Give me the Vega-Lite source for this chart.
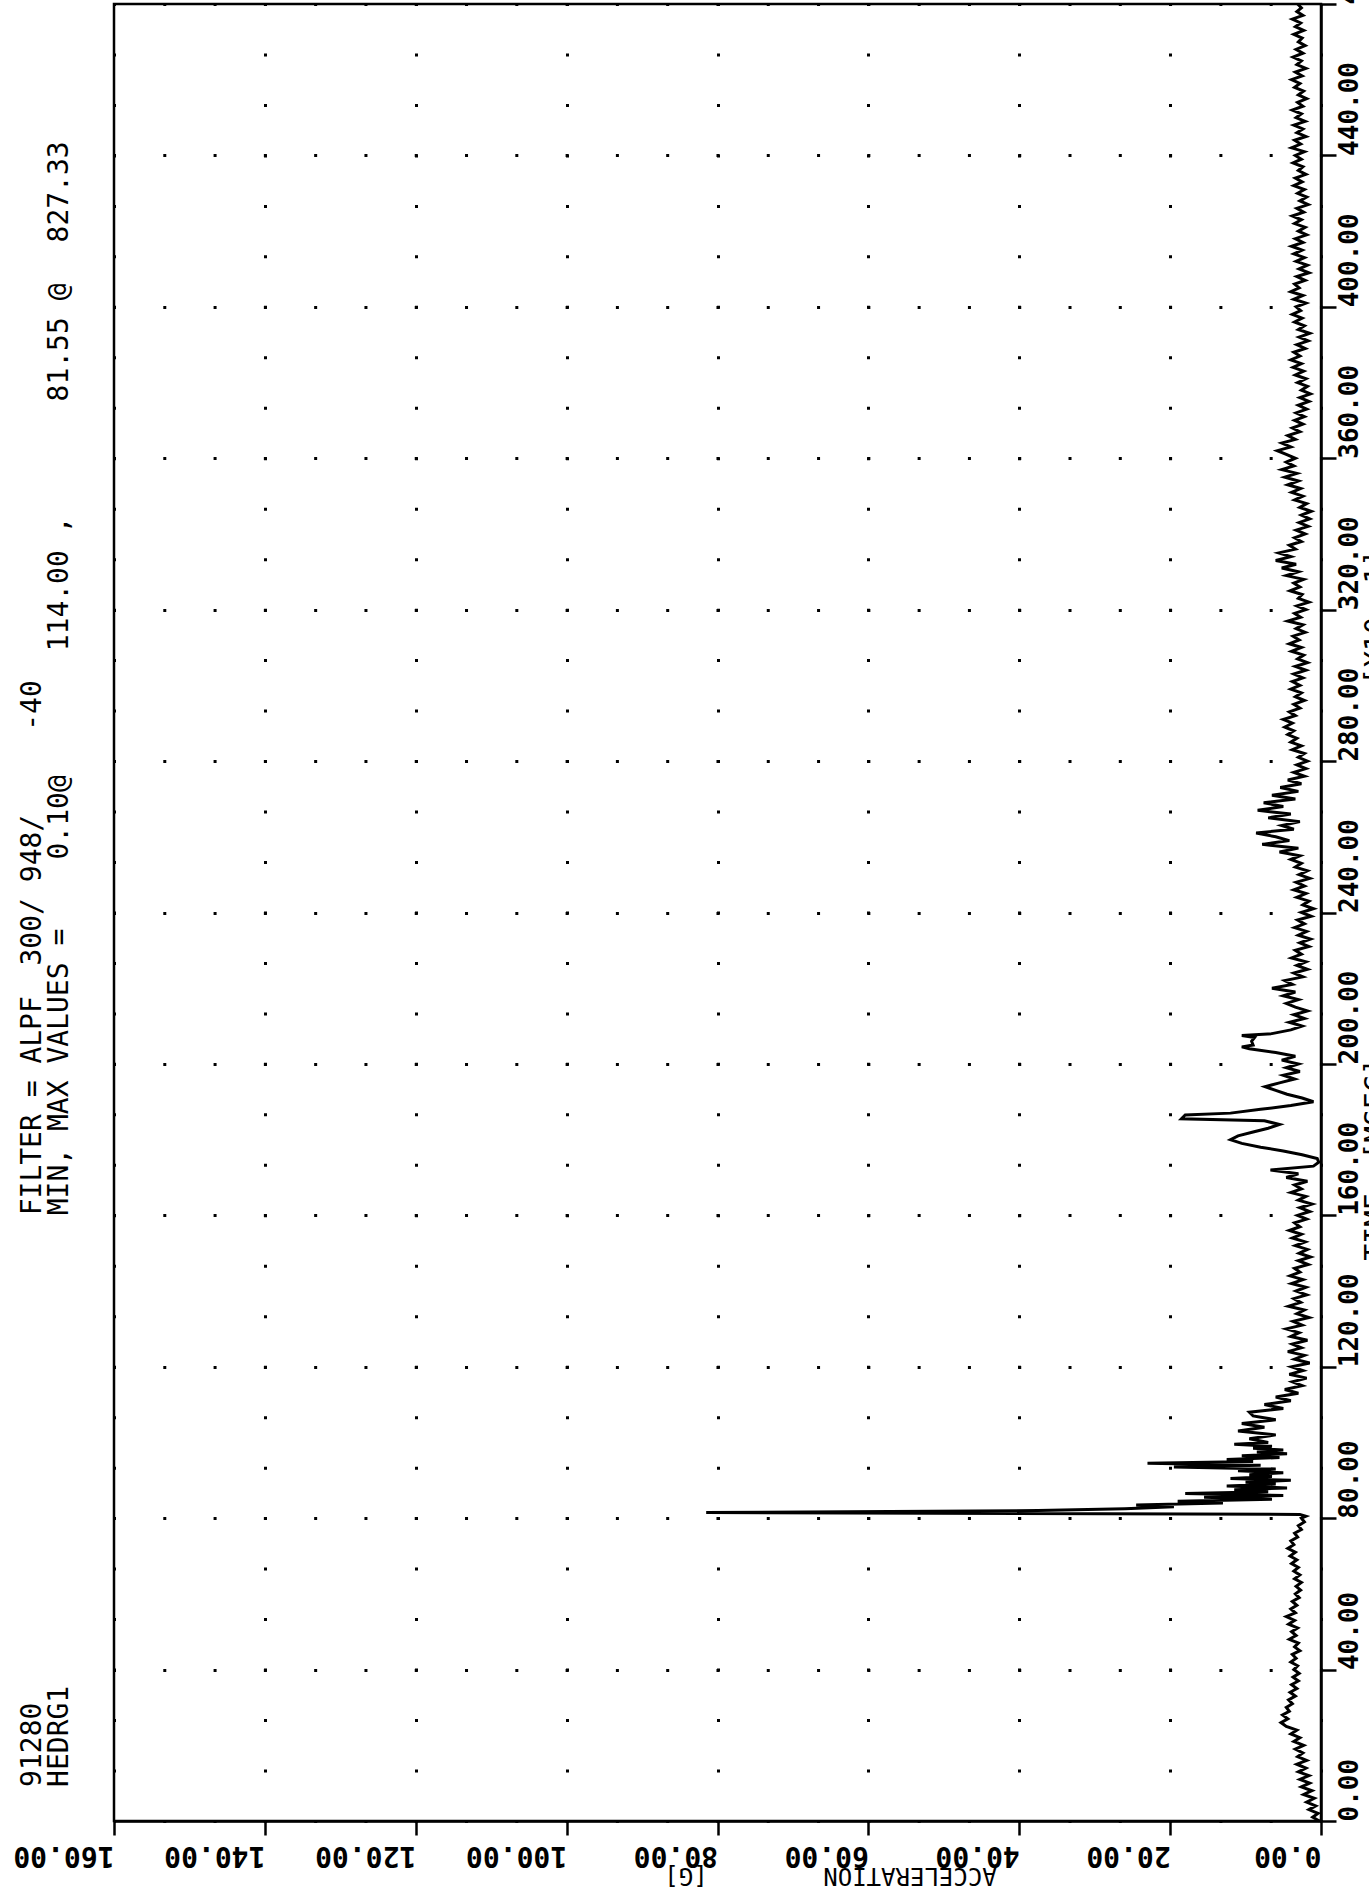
{
"$schema": "https://vega.github.io/schema/vega-lite/v6.json",
"width": 1207,
"height": 1817,
"autosize": {"type": "none"},
"padding": {"left": 114, "top": 4, "right": 48, "bottom": 69},
"background": "white",
"config": {"view": {"stroke": "black", "strokeWidth": 2.5}},
"datasets": {
"trace": [
{"t":0,"g":0.2},{"t":1,"g":1.1},{"t":2,"g":0.4},{"t":3,"g":1.6},{"t":4,"g":0.7},{"t":5,"g":1.9},{"t":6,"g":0.9},{"t":7,"g":2.3},{"t":8,"g":1.2},{"t":9,"g":2.6},{"t":10,"g":1.5},
{"t":11,"g":2.8},{"t":12,"g":1.6},{"t":13,"g":3.0},{"t":14,"g":2.0},{"t":15,"g":3.2},{"t":16,"g":1.9},{"t":17,"g":3.1},{"t":18,"g":2.4},{"t":19,"g":3.4},{"t":20,"g":2.3},{"t":21,"g":3.6},{"t":22,"g":2.8},{"t":23,"g":4.0},{"t":24,"g":3.2},
{"t":25,"g":4.6},{"t":26,"g":5.3},{"t":27,"g":4.4},{"t":28,"g":5.1},{"t":29,"g":4.2},{"t":30,"g":4.6},{"t":31,"g":3.8},{"t":32,"g":4.3},
{"t":33,"g":3.4},{"t":34,"g":4.1},{"t":35,"g":3.2},{"t":36,"g":3.9},{"t":37,"g":3.0},{"t":38,"g":3.7},{"t":39,"g":2.9},{"t":40,"g":3.6},{"t":41,"g":3.1},{"t":42,"g":4.0},{"t":43,"g":3.3},{"t":44,"g":3.8},{"t":45,"g":2.8},{"t":46,"g":3.5},{"t":47,"g":3.0},{"t":48,"g":4.2},{"t":49,"g":3.3},{"t":50,"g":3.9},
{"t":51,"g":3.1},{"t":52,"g":4.3},{"t":53,"g":3.5},{"t":54,"g":4.6},{"t":55,"g":3.4},{"t":56,"g":4.0},{"t":57,"g":3.2},{"t":58,"g":3.8},{"t":59,"g":2.9},{"t":60,"g":3.4},{"t":61,"g":2.7},{"t":62,"g":3.3},{"t":63,"g":2.6},{"t":64,"g":3.5},{"t":65,"g":2.8},{"t":66,"g":3.6},{"t":67,"g":3.0},{"t":68,"g":3.9},{"t":69,"g":3.2},{"t":70,"g":4.1},
{"t":71,"g":3.4},{"t":72,"g":4.4},{"t":73,"g":3.6},{"t":74,"g":4.0},{"t":75,"g":3.1},{"t":76,"g":3.5},{"t":77,"g":2.6},{"t":78,"g":3.0},{"t":79,"g":2.2},{"t":80,"g":2.6},
{"t":80.5,"g":2.0},{"t":81,"g":2.8},{"t":81.5,"g":81.5},{"t":82,"g":37.5},{"t":82.5,"g":26.0},{"t":83,"g":19.5},{"t":83.5,"g":24.5},{"t":84,"g":13.0},{"t":84.5,"g":19.0},{"t":85,"g":6.5},{"t":85.5,"g":15.5},{"t":86,"g":5.0},{"t":86.5,"g":18.0},{"t":87,"g":7.0},{"t":87.5,"g":11.5},{"t":88,"g":4.5},{"t":88.5,"g":12.5},{"t":89,"g":6.0},{"t":89.5,"g":10.0},{"t":90,"g":4.0},
{"t":90.5,"g":12.0},{"t":91,"g":6.5},{"t":91.5,"g":9.5},{"t":92,"g":5.0},{"t":92.5,"g":11.0},{"t":93,"g":6.0},{"t":93.5,"g":19.5},{"t":94,"g":8.0},{"t":94.5,"g":23.0},{"t":95,"g":9.0},{"t":95.5,"g":12.5},{"t":96,"g":5.5},{"t":96.5,"g":10.5},{"t":97,"g":4.5},{"t":97.5,"g":8.5},{"t":98,"g":5.0},{"t":98.5,"g":9.0},{"t":99,"g":6.5},{"t":99.5,"g":11.5},{"t":100,"g":7.0},
{"t":101,"g":9.5},{"t":102,"g":6.0},{"t":103,"g":11.0},{"t":104,"g":7.5},{"t":105,"g":10.5},{"t":106,"g":6.0},{"t":107,"g":9.0},{"t":108,"g":9.5},{"t":109,"g":5.0},{"t":110,"g":7.5},{"t":111,"g":4.0},{"t":112,"g":6.0},{"t":113,"g":3.0},{"t":114,"g":4.8},{"t":115,"g":2.5},
{"t":116,"g":3.8},{"t":117,"g":1.9},{"t":118,"g":4.2},{"t":119,"g":2.4},{"t":120,"g":3.9},{"t":121,"g":1.5},{"t":122,"g":3.5},{"t":123,"g":2.2},{"t":124,"g":4.4},{"t":125,"g":2.6},{"t":126,"g":3.8},{"t":127,"g":1.8},{"t":128,"g":4.0},{"t":129,"g":2.9},{"t":130,"g":4.6},
{"t":131,"g":2.5},{"t":132,"g":3.7},{"t":133,"g":1.6},{"t":134,"g":3.2},{"t":135,"g":2.2},{"t":136,"g":4.3},{"t":137,"g":2.7},{"t":138,"g":3.6},{"t":139,"g":1.9},{"t":140,"g":3.3},{"t":141,"g":2.0},{"t":142,"g":3.9},{"t":143,"g":2.4},{"t":144,"g":4.1},{"t":145,"g":2.8},{"t":146,"g":3.5},{"t":147,"g":1.7},{"t":148,"g":3.0},{"t":149,"g":1.4},{"t":150,"g":2.9},
{"t":151,"g":1.8},{"t":152,"g":3.4},{"t":153,"g":2.1},{"t":154,"g":3.8},{"t":155,"g":2.6},{"t":156,"g":4.2},{"t":157,"g":2.8},{"t":158,"g":3.5},{"t":159,"g":1.9},{"t":160,"g":3.1},{"t":161,"g":1.5},{"t":162,"g":2.8},{"t":163,"g":1.2},{"t":164,"g":3.0},{"t":165,"g":2.0},
{"t":166,"g":4.0},{"t":167,"g":2.6},{"t":168,"g":3.5},{"t":169,"g":1.8},{"t":170,"g":4.6},{"t":171,"g":3.0},{"t":172,"g":6.7},{"t":173,"g":1.0},{"t":174,"g":0.3},{"t":175,"g":0.5},{"t":176,"g":2.5},{"t":177,"g":5.0},{"t":178,"g":8.0},{"t":179,"g":10.5},{"t":180,"g":12.0},{"t":181,"g":11.0},{"t":182,"g":9.0},{"t":183,"g":7.0},{"t":184,"g":5.5},{"t":185,"g":7.5},
{"t":185.5,"g":18.5},{"t":186.5,"g":18.0},{"t":187,"g":12.0},{"t":188,"g":8.0},{"t":189,"g":4.0},{"t":190,"g":1.0},
{"t":191,"g":2.5},{"t":192,"g":4.5},{"t":193,"g":6.0},{"t":194,"g":7.4},{"t":195,"g":5.5},{"t":196,"g":3.5},{"t":197,"g":5.0},{"t":198,"g":2.8},{"t":199,"g":4.6},{"t":200,"g":3.0},{"t":201,"g":5.2},{"t":202,"g":3.4},{"t":203,"g":6.0},{"t":204,"g":9.5},{"t":204.5,"g":10.5},{"t":205,"g":9.0},{"t":206,"g":9.2},{"t":207,"g":8.8},{"t":207.5,"g":10.5},{"t":208,"g":6.5},{"t":209,"g":4.0},{"t":210,"g":2.5},
{"t":211,"g":4.2},{"t":212,"g":2.2},{"t":213,"g":3.6},{"t":214,"g":1.8},{"t":215,"g":3.4},{"t":216,"g":4.6},{"t":217,"g":3.0},{"t":218,"g":5.0},{"t":219,"g":3.4},{"t":220,"g":6.5},{"t":221,"g":3.8},{"t":222,"g":4.8},{"t":223,"g":2.4},{"t":224,"g":3.6},{"t":225,"g":1.8},{"t":226,"g":3.2},{"t":227,"g":2.0},{"t":228,"g":3.9},{"t":229,"g":2.6},{"t":230,"g":3.4},
{"t":231,"g":1.6},{"t":232,"g":2.8},{"t":233,"g":1.4},{"t":234,"g":3.0},{"t":235,"g":1.9},{"t":236,"g":3.5},{"t":237,"g":2.2},{"t":238,"g":3.1},{"t":239,"g":1.3},{"t":240,"g":2.6},{"t":241,"g":1.0},{"t":242,"g":2.4},{"t":243,"g":1.6},{"t":244,"g":3.2},{"t":245,"g":2.0},{"t":246,"g":3.6},{"t":247,"g":2.2},{"t":248,"g":3.3},{"t":249,"g":1.5},{"t":250,"g":2.9},
{"t":251,"g":1.8},{"t":252,"g":3.4},{"t":253,"g":2.6},{"t":254,"g":4.0},{"t":255,"g":2.8},{"t":256,"g":5.5},{"t":257,"g":3.0},{"t":258,"g":7.8},{"t":259,"g":4.2},{"t":260,"g":6.0},{"t":261,"g":8.6},{"t":262,"g":3.6},{"t":263,"g":5.2},{"t":264,"g":2.8},{"t":265,"g":7.0},{"t":266,"g":4.0},{"t":267,"g":8.4},{"t":268,"g":5.0},{"t":269,"g":7.6},{"t":270,"g":3.4},
{"t":271,"g":6.5},{"t":272,"g":3.0},{"t":273,"g":5.4},{"t":274,"g":2.6},{"t":275,"g":4.4},{"t":276,"g":2.2},{"t":277,"g":3.6},{"t":278,"g":2.0},{"t":279,"g":3.2},{"t":280,"g":1.8},{"t":281,"g":3.0},{"t":282,"g":2.2},{"t":283,"g":3.8},{"t":284,"g":2.6},{"t":285,"g":4.0},{"t":286,"g":3.2},{"t":287,"g":4.4},{"t":288,"g":3.6},{"t":289,"g":4.8},{"t":290,"g":3.8},
{"t":291,"g":5.0},{"t":292,"g":3.4},{"t":293,"g":4.2},{"t":294,"g":2.8},{"t":295,"g":3.6},{"t":296,"g":2.2},{"t":297,"g":3.4},{"t":298,"g":2.6},{"t":299,"g":4.0},{"t":300,"g":2.8},
{"t":301,"g":3.8},{"t":302,"g":2.4},{"t":303,"g":3.6},{"t":304,"g":2.0},{"t":305,"g":3.4},{"t":306,"g":1.8},{"t":307,"g":3.1},{"t":308,"g":2.3},{"t":309,"g":3.9},{"t":310,"g":2.6},{"t":311,"g":4.2},{"t":312,"g":2.9},{"t":313,"g":3.7},{"t":314,"g":2.1},{"t":315,"g":3.3},{"t":316,"g":2.4},{"t":317,"g":4.4},{"t":318,"g":2.7},{"t":319,"g":3.5},{"t":320,"g":2.0},
{"t":321,"g":3.2},{"t":322,"g":1.6},{"t":323,"g":3.0},{"t":324,"g":2.5},{"t":325,"g":4.1},{"t":326,"g":2.8},{"t":327,"g":3.6},{"t":328,"g":2.3},{"t":329,"g":4.6},{"t":330,"g":3.0},{"t":331,"g":5.2},{"t":332,"g":3.3},{"t":333,"g":6.0},{"t":334,"g":4.0},{"t":335,"g":5.6},{"t":336,"g":3.4},{"t":337,"g":4.2},{"t":338,"g":2.6},{"t":339,"g":3.5},{"t":340,"g":2.1},
{"t":341,"g":3.3},{"t":342,"g":1.7},{"t":343,"g":2.9},{"t":344,"g":1.5},{"t":345,"g":2.6},{"t":346,"g":1.3},{"t":347,"g":2.8},{"t":348,"g":1.9},{"t":349,"g":3.5},{"t":350,"g":2.4},{"t":351,"g":3.9},{"t":352,"g":2.7},{"t":353,"g":4.4},{"t":354,"g":3.0},{"t":355,"g":4.8},{"t":356,"g":3.2},{"t":357,"g":5.2},{"t":358,"g":3.6},{"t":359,"g":4.6},{"t":360,"g":3.4},
{"t":361,"g":4.6},{"t":362,"g":5.8},{"t":363,"g":4.0},{"t":364,"g":5.2},{"t":365,"g":3.4},{"t":366,"g":4.4},{"t":367,"g":2.8},{"t":368,"g":3.8},{"t":369,"g":2.4},{"t":370,"g":3.5},{"t":371,"g":2.2},{"t":372,"g":3.3},{"t":373,"g":1.9},{"t":374,"g":3.0},{"t":375,"g":1.6},{"t":376,"g":2.8},{"t":377,"g":1.4},{"t":378,"g":2.6},{"t":379,"g":1.8},{"t":380,"g":3.1},
{"t":381,"g":2.0},{"t":382,"g":3.4},{"t":383,"g":2.3},{"t":384,"g":3.7},{"t":385,"g":2.6},{"t":386,"g":4.0},{"t":387,"g":2.8},{"t":388,"g":3.6},{"t":389,"g":2.1},{"t":390,"g":3.2},{"t":391,"g":1.7},{"t":392,"g":2.9},{"t":393,"g":1.5},{"t":394,"g":3.0},{"t":395,"g":2.2},{"t":396,"g":3.5},{"t":397,"g":2.5},{"t":398,"g":3.8},{"t":399,"g":2.7},{"t":400,"g":3.3},
{"t":401,"g":2.0},{"t":402,"g":3.6},{"t":403,"g":2.4},{"t":404,"g":4.0},{"t":405,"g":2.9},{"t":406,"g":3.5},{"t":407,"g":2.1},{"t":408,"g":3.2},{"t":409,"g":1.6},{"t":410,"g":2.9},{"t":411,"g":1.8},{"t":412,"g":3.3},{"t":413,"g":2.2},{"t":414,"g":3.6},{"t":415,"g":2.5},{"t":416,"g":3.9},{"t":417,"g":2.4},{"t":418,"g":3.4},{"t":419,"g":1.9},{"t":420,"g":3.0},
{"t":421,"g":2.1},{"t":422,"g":3.5},{"t":423,"g":2.6},{"t":424,"g":3.8},{"t":425,"g":2.3},{"t":426,"g":3.2},{"t":427,"g":1.7},{"t":428,"g":2.8},{"t":429,"g":1.9},{"t":430,"g":3.1},{"t":431,"g":2.2},{"t":432,"g":3.6},{"t":433,"g":2.5},{"t":434,"g":3.4},{"t":435,"g":2.0},{"t":436,"g":3.0},{"t":437,"g":2.4},{"t":438,"g":3.7},{"t":439,"g":2.6},{"t":440,"g":3.4},
{"t":441,"g":2.2},{"t":442,"g":3.9},{"t":443,"g":2.7},{"t":444,"g":3.5},{"t":445,"g":2.0},{"t":446,"g":3.2},{"t":447,"g":2.4},{"t":448,"g":3.6},{"t":449,"g":2.1},{"t":450,"g":3.3},{"t":451,"g":2.6},{"t":452,"g":3.8},{"t":453,"g":2.4},{"t":454,"g":3.1},{"t":455,"g":1.9},{"t":456,"g":3.0},{"t":457,"g":2.3},{"t":458,"g":3.5},{"t":459,"g":2.8},{"t":460,"g":3.9},
{"t":461,"g":2.5},{"t":462,"g":3.4},{"t":463,"g":2.0},{"t":464,"g":3.2},{"t":465,"g":2.6},{"t":466,"g":3.7},{"t":467,"g":2.4},{"t":468,"g":3.3},{"t":469,"g":2.1},{"t":470,"g":3.0},{"t":471,"g":2.5},{"t":472,"g":3.6},{"t":473,"g":2.3},{"t":474,"g":3.4},{"t":475,"g":2.7},{"t":476,"g":3.8},{"t":477,"g":2.4},{"t":478,"g":3.2},{"t":479,"g":2.6},{"t":480,"g":3.1}
],
"notes": [
{"label":"91280","t":9,"g":170.7},
{"label":"FILTER = ALPF","t":160,"g":170.7},
{"label":"300/","t":226,"g":170.7},
{"label":"948/","t":248,"g":170.7},
{"label":"-40","t":288,"g":170.7},
{"label":"HEDRG1","t":9,"g":167.2},
{"label":"MIN, MAX VALUES =","t":160,"g":167.2},
{"label":"0.10@","t":254,"g":167.2},
{"label":"114.00 ,","t":309,"g":167.2},
{"label":"81.55 @","t":375,"g":167.2},
{"label":"827.33","t":417,"g":167.2}
],
"side": [
{"label":"[X10\u00a0-1]","t":318,"g":-5.6}
]
},
"encoding": {
"x": {"field": "g", "type": "quantitative",
"scale": {"domain": [0, 160], "reverse": true, "nice": false, "zero": false},
"axis": {"orient": "bottom", "values": [0,20,40,60,80,100,120,140,160], "format": ".2f",
"title": "ACCELERATION\u00a0\u00a0\u00a0\u00a0\u00a0\u00a0\u00a0\u00a0[G]",
"labelAngle": 180, "labelAlign": "left", "labelBaseline": "bottom", "labelPadding": 5,
"labelFont": "DejaVu Sans Mono", "labelFontSize": 28, "labelFontWeight": "bold", "labelColor": "black",
"labelOverlap": false, "labelBound": false, "labelFlush": false,
"tickSize": 14, "tickWidth": 2.5, "tickColor": "black",
"domainColor": "black", "domainWidth": 2.5,
"grid": true, "gridColor": "black", "gridWidth": 3, "gridDash": [3, 47.47], "gridDashOffset": 1.5, "gridOpacity": 1,
"titleAngle": 180, "titleX": 716, "titleY": 53, "titleAlign": "center", "titleBaseline": "middle",
"titleFont": "DejaVu Sans Mono", "titleFontSize": 24, "titleFontWeight": "normal", "titleColor": "black"}},
"y": {"field": "t", "type": "quantitative",
"scale": {"domain": [0, 480], "nice": false, "zero": false},
"axis": {"orient": "right", "values": [0,40,80,120,160,200,240,280,320,360,400,440,480], "format": ".2f",
"title": "TIME\u00a0\u00a0[MSEC]",
"labelAngle": 270, "labelAlign": "left", "labelBaseline": "top", "labelPadding": 0,
"labelFont": "DejaVu Sans Mono", "labelFontSize": 26, "labelFontWeight": "bold", "labelColor": "black",
"labelOverlap": false, "labelBound": false, "labelFlush": false,
"tickSize": 15, "tickWidth": 2.5, "tickColor": "black",
"domainColor": "black", "domainWidth": 2.5,
"grid": true, "gridColor": "black", "gridWidth": 3, "gridDash": [3, 47.29], "gridDashOffset": 1.5, "gridOpacity": 1,
"titleAngle": 270, "titleX": 41, "titleY": 1155, "titleAlign": "center", "titleBaseline": "top",
"titleFont": "DejaVu Sans Mono", "titleFontSize": 28, "titleFontWeight": "normal", "titleColor": "black"}}
},
"layer": [
{
"data": {"name": "trace"},
"mark": {"type": "line", "color": "black", "strokeWidth": 3},
"encoding": {"order": {"field": "t", "type": "quantitative"}}
},
{
"data": {"name": "notes"},
"mark": {"type": "text", "angle": 270, "align": "left", "baseline": "middle", "font": "DejaVu Sans Mono", "fontSize": 28, "color": "black"},
"encoding": {"text": {"field": "label"}}
},
{
"data": {"name": "side"},
"mark": {"type": "text", "angle": 270, "align": "center", "baseline": "top", "font": "DejaVu Sans Mono", "fontSize": 28, "color": "black"},
"encoding": {"text": {"field": "label"}}
}
]
}
